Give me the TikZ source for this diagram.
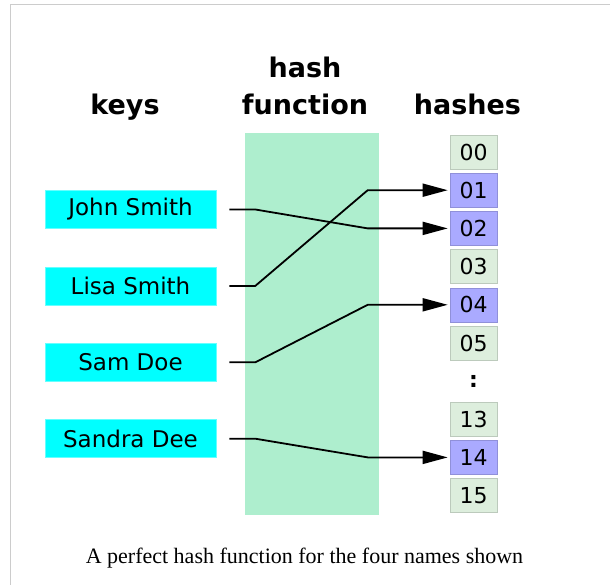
\documentclass[tikz,border=0pt]{standalone}
\usepackage{fontspec}
\setmainfont{Liberation Serif}
\newfontfamily\dejavu{DejaVu Sans}
\usepackage{xcolor}
\usetikzlibrary{arrows.meta, positioning}

\definecolor{keycyan}{HTML}{00FFFF}
\definecolor{fngreen}{HTML}{AEEECE}
\definecolor{slotgreen}{HTML}{DDEEDD}
\definecolor{slotblue}{HTML}{AAAAFF}
\definecolor{framegray}{HTML}{CCCCCC}

\begin{document}
\begin{tikzpicture}[x=1pt, y=-1pt,
    head/.style={font=\dejavu\bfseries\fontsize{27}{32}\selectfont, anchor=base, inner sep=0},
    keybox/.style={fill=keycyan, draw=keycyan!60!white, line width=0.6pt,
        minimum width=171pt, minimum height=38pt, inner sep=0,
        font=\dejavu\fontsize{23}{27}\selectfont},
    slot/.style={fill=slotgreen, draw=slotgreen!85!black, line width=0.6pt,
        minimum width=47pt, minimum height=34pt, inner sep=0,
        font=\dejavu\fontsize{22}{26}\selectfont},
    used/.style={slot, fill=slotblue, draw=slotblue!85!black},
    conn/.style={line width=1.8pt, -{Triangle[length=25pt,width=13pt]}}]

    % =================================================================
    % 1. KHUNG VA VUNG HINH
    % =================================================================
    \useasboundingbox (0,0) rectangle (610,585);
    \draw[framegray, line width=1.5pt] (610,4.5) -- (10.5,4.5) -- (10.5,585);

    % Cot ham bam o giua
    \node[fill=fngreen, minimum width=134pt, minimum height=382pt, inner sep=0]
        (fnbody) at (312,324) {};

    % =================================================================
    % 2. TIEU DE CAC COT
    % =================================================================
    \node[head] (keys) at (125,115) {keys};
    \node[head] (hashA) at (305,78) {hash};
    \node[head] (hashB) at (305,115) {function};
    \node[head] (hashes) at (467.5,115) {hashes};

    % =================================================================
    % 3. CAC KHOA (ben trai)
    % =================================================================
    \node[keybox] (john) at (130.5,209.5) {John Smith};
    \node[keybox, below=37.8pt of john] (lisa) {Lisa Smith};
    \node[keybox, below=37.8pt of lisa] (sam) {Sam Doe};
    \node[keybox, below=37.8pt of sam] (sandra) {Sandra Dee};

    % =================================================================
    % 4. CAC O BAM (ben phai)
    % =================================================================
    \node[slot] (h00) at (473.5,152) {00};
    \node[used, below=3.6pt of h00] (h01) {01};
    \node[used, below=3.6pt of h01] (h02) {02};
    \node[slot, below=3.6pt of h02] (h03) {03};
    \node[used, below=3.6pt of h03] (h04) {04};
    \node[slot, below=3.6pt of h04] (h05) {05};
    \node[minimum height=34pt, inner sep=0, font=\dejavu\bfseries\fontsize{22}{26}\selectfont,
        below=3.6pt of h05] (hdots) {:};
    \node[slot, below=3.6pt of hdots] (h13) {13};
    \node[used, below=3.6pt of h13] (h14) {14};
    \node[slot, below=3.6pt of h14] (h15) {15};

    % =================================================================
    % 5. DUONG NOI KHOA -> O BAM
    % =================================================================
    \draw[conn] ([xshift=13pt]john.east) -- ++(26,0) -- ([xshift=-82pt]h02.west) -- ([xshift=-2pt]h02.west);
    \draw[conn] ([xshift=13pt]lisa.east) -- ++(26,0) -- ([xshift=-82pt]h01.west) -- ([xshift=-2pt]h01.west);
    \draw[conn] ([xshift=13pt]sam.east) -- ++(26,0) -- ([xshift=-82pt]h04.west) -- ([xshift=-2pt]h04.west);
    \draw[conn] ([xshift=13pt]sandra.east) -- ++(26,0) -- ([xshift=-82pt]h14.west) -- ([xshift=-2pt]h14.west);

    % Chu thich
    \node[anchor=base, inner sep=0, font=\fontsize{22}{26}\selectfont] (caption) at (304.5,563)
        {A perfect hash function for the four names shown};

\end{tikzpicture}
\end{document}
